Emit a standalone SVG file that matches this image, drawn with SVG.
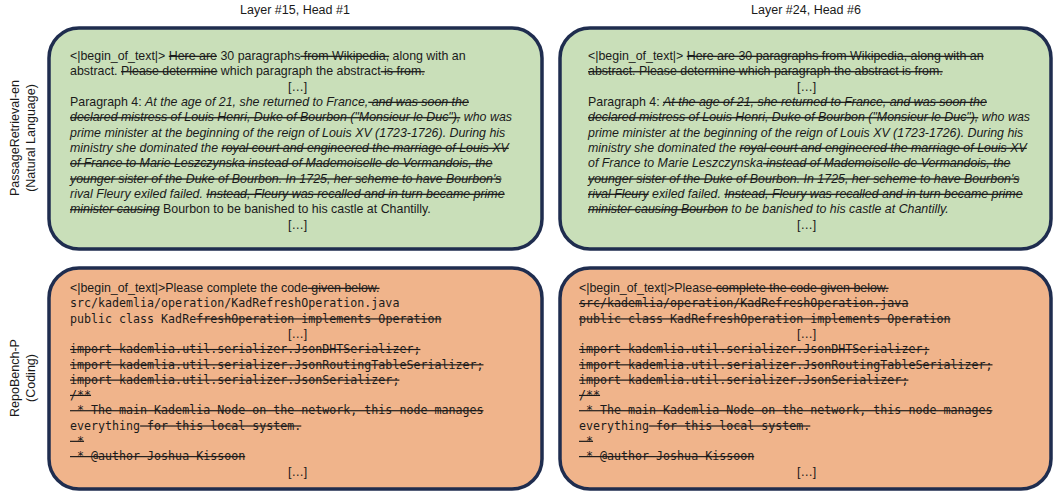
<svg xmlns="http://www.w3.org/2000/svg" width="1055" height="493" viewBox="0 0 1055 493">
<style>
.bg{fill:#ffffff}
.hd{font-family:"Liberation Sans",Arial,sans-serif;font-size:12.5px;fill:#1a1a1a}
.t{font-family:"Liberation Sans",Arial,sans-serif;font-size:12.4px;fill:#1a1a1a;white-space:pre}
.m{font-family:"DejaVu Sans Mono","Liberation Mono",monospace;font-size:11.65px;fill:#1a1a1a;white-space:pre}
.i{font-style:italic}
.s{text-decoration:line-through}
.g{fill:#c9dfb9;stroke:#1f2d4f;stroke-width:3.5}
.o{fill:#f0b48b;stroke:#1f2d4f;stroke-width:3.5}
</style>
<rect class="bg" x="0" y="0" width="1055" height="493"/>
<g id="headers">
<text class="hd" x="295" y="14" text-anchor="middle">Layer #15, Head #1</text>
<text class="hd" x="806" y="14" text-anchor="middle">Layer #24, Head #6</text>
<text class="hd" transform="translate(19,138) rotate(-90)" text-anchor="middle">PassageRetrieval-en</text>
<text class="hd" transform="translate(35,138) rotate(-90)" text-anchor="middle">(Natural Language)</text>
<text class="hd" transform="translate(19,378) rotate(-90)" text-anchor="middle">RepoBench-P</text>
<text class="hd" transform="translate(35,378) rotate(-90)" text-anchor="middle">(Coding)</text>
</g>
<g id="connectors"></g>
<g id="passage-l15">
<rect class="g" x="49" y="28" width="493" height="221" rx="30"/>
<text class="t" x="70" y="60">&lt;|begin_of_text|&gt; <tspan class="s">Here are</tspan> 30 paragraphs<tspan class="s"> from Wikipedia,</tspan> along with an</text>
<text class="t" x="70" y="75.4">abstract. <tspan class="s">Please determine</tspan> which paragraph the abstract<tspan class="s"> is from.</tspan></text>
<text class="t" x="288" y="90.7">[…]</text>
<text class="t" x="70" y="106">Paragraph 4: <tspan class="i">At the age of 21, she returned to France,</tspan><tspan class="i s"> and was soon the</tspan></text>
<text class="t i" x="70" y="121.4"><tspan class="s">declared mistress of Louis Henri, Duke of Bourbon ("Monsieur le Duc"),</tspan> who was</text>
<text class="t i" x="70" y="136.7">prime minister at the beginning of the reign of Louis XV (1723-1726). During his</text>
<text class="t i" x="70" y="152">ministry she dominated the <tspan class="s">royal court and engineered the marriage of Louis XV</tspan></text>
<text class="t i s" x="70" y="167.4">of France to Marie Leszczynska instead of Mademoiselle de Vermandois, the</text>
<text class="t i s" x="70" y="182.7">younger sister of the Duke of Bourbon. In 1725, her scheme to have Bourbon's</text>
<text class="t i" x="70" y="198">rival Fleury exiled failed. <tspan class="s">Instead, Fleury was recalled and in turn became prime</tspan></text>
<text class="t" x="70" y="213.4"><tspan class="i s">minister causing</tspan> Bourbon to be banished to his castle at Chantilly.</text>
<text class="t" x="288" y="228.8">[…]</text>
</g>
<g id="passage-l24">
<rect class="g" x="560" y="28" width="491" height="221" rx="30"/>
<text class="t" x="588" y="60">&lt;|begin_of_text|&gt; <tspan class="s">Here are 30 paragraphs from Wikipedia, along with an</tspan></text>
<text class="t s" x="588" y="75.4">abstract. Please determine which paragraph the abstract is from.</text>
<text class="t" x="797" y="90.7">[…]</text>
<text class="t" x="588" y="106">Paragraph 4: <tspan class="i s">At the age of 21, she returned to France, and was soon the</tspan></text>
<text class="t i" x="588" y="121.4"><tspan class="s">declared mistress of Louis Henri, Duke of Bourbon ("Monsieur le Duc"),</tspan> who was</text>
<text class="t i" x="588" y="136.7">prime minister at the beginning of the reign of Louis XV (1723-1726). During his</text>
<text class="t i" x="588" y="152">ministry she dominated the <tspan class="s">royal court and engineered the marriage of Louis XV</tspan></text>
<text class="t i" x="588" y="167.4">of France to Marie Leszczynska<tspan class="s"> instead of Mademoiselle de Vermandois, the</tspan></text>
<text class="t i s" x="588" y="182.7">younger sister of the Duke of Bourbon. In 1725, her scheme to have Bourbon's</text>
<text class="t i" x="588" y="198"><tspan class="s">rival Fleury</tspan> exiled failed. <tspan class="s">Instead, Fleury was recalled and in turn became prime</tspan></text>
<text class="t" x="588" y="213.4"><tspan class="i s">minister causing Bourbon</tspan><tspan class="i"> to be banished to his castle at Chantilly.</tspan></text>
<text class="t" x="797" y="228.8">[…]</text>
</g>
<g id="repobench-l15">
<rect class="o" x="49" y="268" width="493" height="221" rx="30"/>
<text class="t" x="70" y="292">&lt;|begin_of_text|&gt;Please complete the code<tspan class="s"> given below.</tspan></text>
<text class="m" x="70" y="307.3">src/kademlia/operation/KadRefreshOperation.java</text>
<text class="m" x="70" y="322.6">public class KadRe<tspan class="s">freshOperation implements Operation</tspan></text>
<text class="t" x="288" y="337.9">[…]</text>
<text class="m s" x="70" y="353.2">import kademlia.util.serializer.JsonDHTSerializer;</text>
<text class="m s" x="70" y="368.5">import kademlia.util.serializer.JsonRoutingTableSerializer;</text>
<text class="m s" x="70" y="383.8">import kademlia.util.serializer.JsonSerializer;</text>
<text class="m s" x="70" y="399.1">/**</text>
<text class="m s" x="70" y="414.4"> * The main Kademlia Node on the network, this node manages</text>
<text class="m" x="70" y="429.7">everything<tspan class="s"> for this local system.</tspan></text>
<text class="m s" x="70" y="445"> *</text>
<text class="m s" x="70" y="460.3"> * @author Joshua Kissoon</text>
<text class="t" x="288" y="475.6">[…]</text>
</g>
<g id="repobench-l24">
<rect class="o" x="560" y="268" width="491" height="221" rx="30"/>
<text class="t" x="579" y="292">&lt;|begin_of_text|&gt;Please<tspan class="s"> complete the code given below.</tspan></text>
<text class="m s" x="579" y="307.3">src/kademlia/operation/KadRefreshOperation.java</text>
<text class="m s" x="579" y="322.6">public class KadRefreshOperation implements Operation</text>
<text class="t" x="797" y="337.9">[…]</text>
<text class="m s" x="579" y="353.2">import kademlia.util.serializer.JsonDHTSerializer;</text>
<text class="m s" x="579" y="368.5">import kademlia.util.serializer.JsonRoutingTableSerializer;</text>
<text class="m s" x="579" y="383.8">import kademlia.util.serializer.JsonSerializer;</text>
<text class="m s" x="579" y="399.1">/**</text>
<text class="m s" x="579" y="414.4"> * The main Kademlia Node on the network, this node manages</text>
<text class="m" x="579" y="429.7">everything<tspan class="s"> for this local system.</tspan></text>
<text class="m s" x="579" y="445"> *</text>
<text class="m s" x="579" y="460.3"> * @author Joshua Kissoon</text>
<text class="t" x="797" y="475.6">[…]</text>
</g>
</svg>
